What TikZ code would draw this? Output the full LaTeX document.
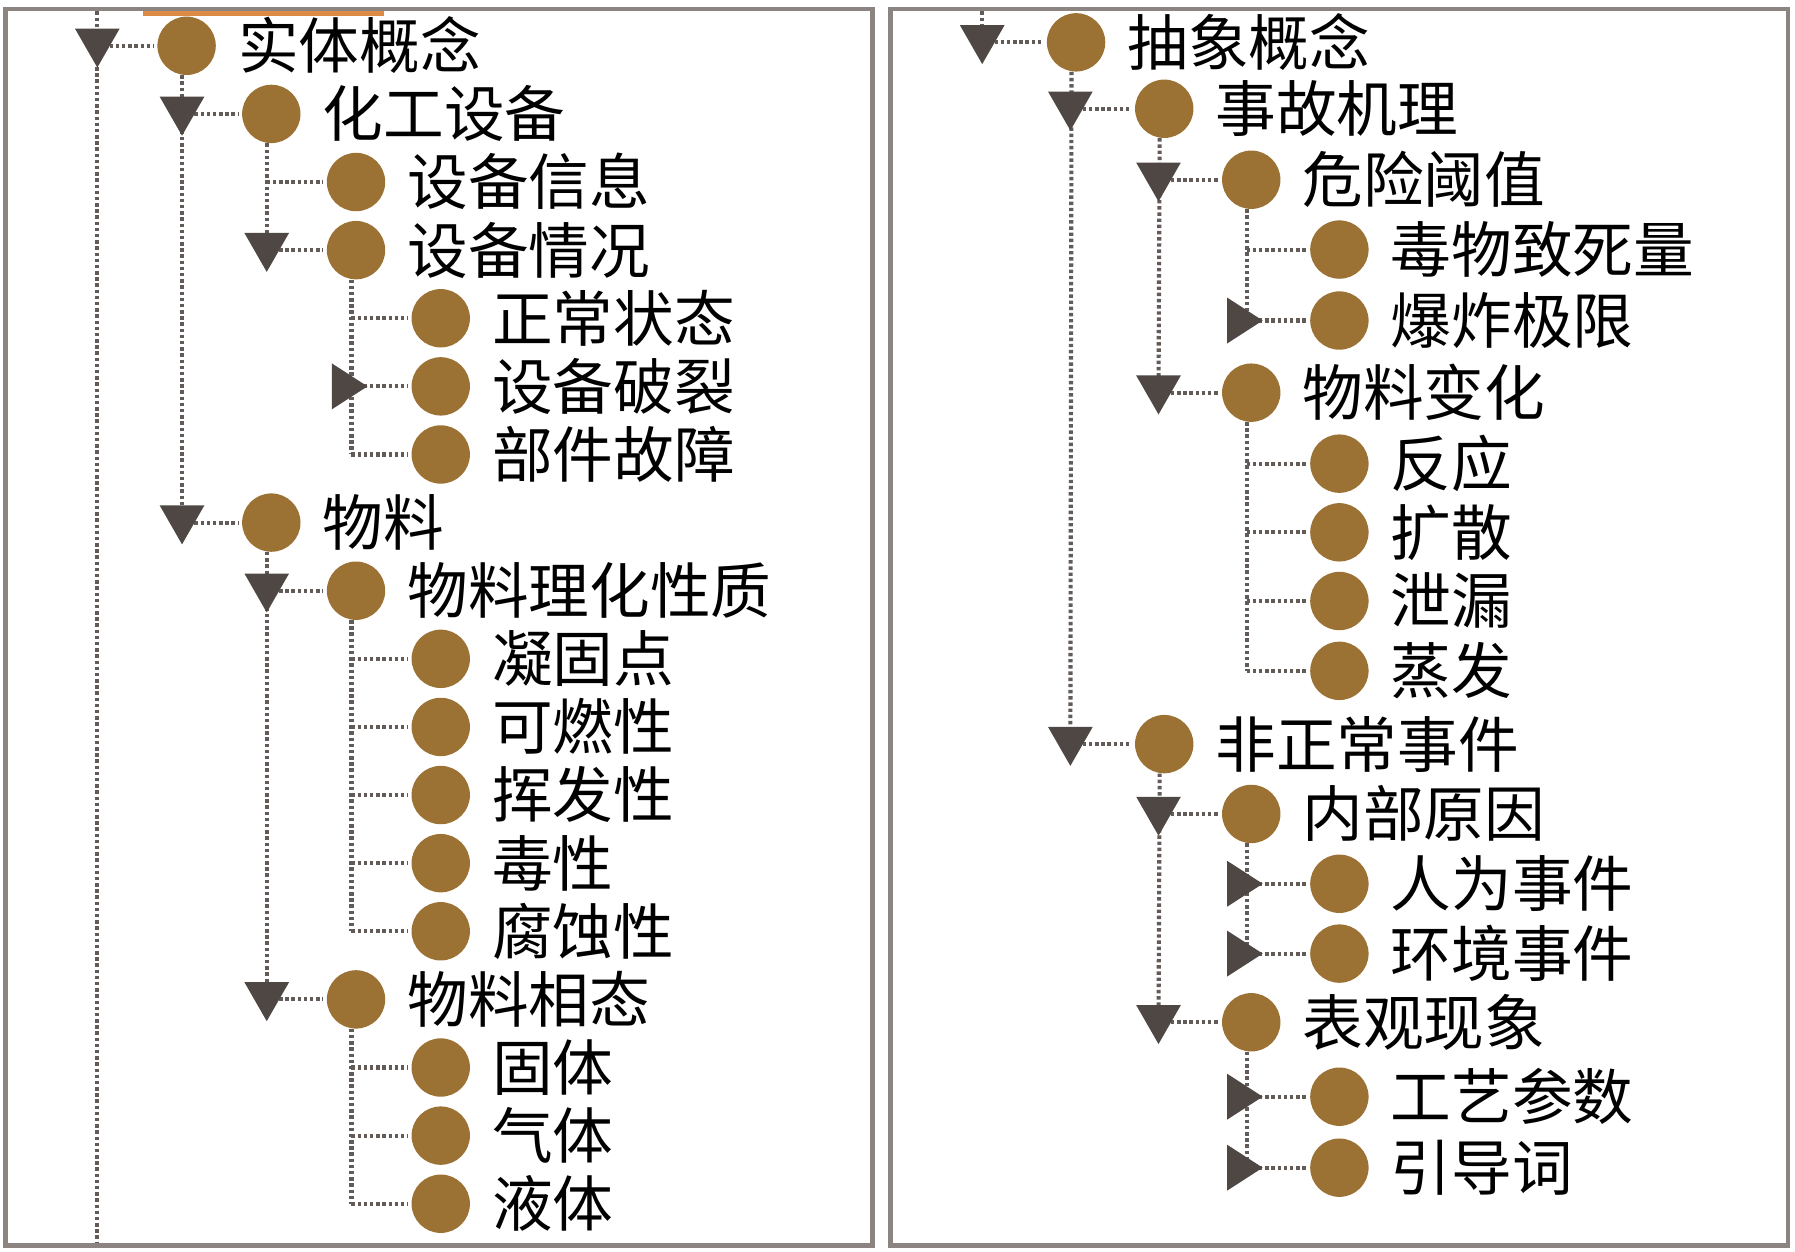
\documentclass[tikz,border=0pt]{standalone}
\usepackage{fontspec}
\newfontfamily\cjk{Noto Sans CJK SC}
\usetikzlibrary{shapes.geometric}
\definecolor{cBub}{RGB}{155,114,52}
\definecolor{cTri}{RGB}{78,71,68}
\definecolor{cDot}{RGB}{98,91,88}
\definecolor{cBorder}{RGB}{140,132,128}
\definecolor{cOrange}{RGB}{221,138,68}
\definecolor{cPeek}{RGB}{170,170,185}
\tikzset{
  bubble/.style={circle, fill=cBub, minimum size=51pt, inner sep=0pt},
  lbl/.style={anchor=west, inner sep=0pt, font=\cjk\fontsize{53}{60}\selectfont, text height=44pt, text depth=4pt},
  dotln/.style={draw=cDot, line width=3.6pt, dash pattern=on 3pt off 2.4pt},
  tri/.style={fill=cTri},
  panel/.style={draw=cBorder, line width=4pt},
}
\newcommand\bnode[4]{\node[bubble] (#1) at (#2,#3) {};\node[lbl] (#1t) at ([xshift=19pt]#1.east) {#4};}
\newcommand\tdown[1]{\fill[tri] ([shift={(-19.5pt,15pt)}]#1) -- ([shift={(19.5pt,15pt)}]#1) -- ([shift={(0pt,-19pt)}]#1) -- cycle;}
\newcommand\tright[1]{\fill[tri] ([shift={(-17pt,20pt)}]#1) -- ([shift={(14pt,0pt)}]#1) -- ([shift={(-17pt,-20pt)}]#1) -- cycle;}
\begin{document}
\begin{tikzpicture}[x=1pt,y=-1pt]
\useasboundingbox (0,0) rectangle (1568,1093);
\fill[white] (0,0) rectangle (1568,1093);
% ---------------- left panel ----------------
\begin{scope}
\clip (7,10) rectangle (760,1086);
\fill[cPeek] (163,1113) circle (26pt);
\end{scope}
\draw[cOrange, line width=4pt] (125,12) -- (335,12);
\bnode{a0}{163}{40}{实体概念}
\bnode{a1}{237}{99.5}{化工设备}
\bnode{a2}{311}{159}{设备信息}
\bnode{a3}{311}{218.5}{设备情况}
\bnode{a4}{385}{278}{正常状态}
\bnode{a5}{385}{337.5}{设备破裂}
\bnode{a6}{385}{397}{部件故障}
\bnode{a7}{237}{456.5}{物料}
\bnode{a8}{311}{516}{物料理化性质}
\bnode{a9}{385}{575.5}{凝固点}
\bnode{a10}{385}{635}{可燃性}
\bnode{a11}{385}{694.5}{挥发性}
\bnode{a12}{385}{754}{毒性}
\bnode{a13}{385}{813.5}{腐蚀性}
\bnode{a14}{311}{873}{物料相态}
\bnode{a15}{385}{932.5}{固体}
\bnode{a16}{385}{992}{气体}
\bnode{a17}{385}{1051.5}{液体}
\coordinate (k0) at (85,40);
\coordinate (k1) at (159,99.5);
\coordinate (k2) at (233,159);
\coordinate (k3) at (233,218.5);
\coordinate (k4) at (307,278);
\coordinate (k5) at (307,337.5);
\coordinate (k6) at (307,397);
\coordinate (k7) at (159,456.5);
\coordinate (k8) at (233,516);
\coordinate (k9) at (307,575.5);
\coordinate (k10) at (307,635);
\coordinate (k11) at (307,694.5);
\coordinate (k12) at (307,754);
\coordinate (k13) at (307,813.5);
\coordinate (k14) at (233,873);
\coordinate (k15) at (307,932.5);
\coordinate (k16) at (307,992);
\coordinate (k17) at (307,1051.5);
\coordinate (topL) at (85,10);
\coordinate (botL) at (85,1086);
\draw[dotln] (topL) -- (botL);
\draw[dotln] ([xshift=-4pt]a0.south) -- (k7);
\draw[dotln] ([xshift=-4pt]a1.south) -- (k3);
\draw[dotln] ([xshift=-4pt]a3.south) -- (k6);
\draw[dotln] ([xshift=-4pt]a7.south) -- (k14);
\draw[dotln] ([xshift=-4pt]a8.south) -- (k13);
\draw[dotln] ([xshift=-4pt]a14.south) -- (k17);
\foreach \i in {0,...,17} {\draw[dotln] (k\i) -- ([xshift=-3pt]a\i.west);}
\tdown{k0}\tdown{k1}\tdown{k3}\tdown{k7}\tdown{k8}\tdown{k14}
\tright{k5}
\draw[panel] (5,8) rectangle (762,1088);
% ---------------- right panel ----------------
\bnode{b0}{940}{37}{抽象概念}
\bnode{b1}{1017}{95}{事故机理}
\bnode{b2}{1093}{157}{危险阈值}
\bnode{b3}{1170}{218}{毒物致死量}
\bnode{b4}{1170}{280}{爆炸极限}
\bnode{b5}{1093}{343}{物料变化}
\bnode{b6}{1170}{405}{反应}
\bnode{b7}{1170}{465}{扩散}
\bnode{b8}{1170}{525}{泄漏}
\bnode{b9}{1170}{586}{蒸发}
\bnode{b10}{1017}{650}{非正常事件}
\bnode{b11}{1093}{711}{内部原因}
\bnode{b12}{1170}{772}{人为事件}
\bnode{b13}{1170}{833}{环境事件}
\bnode{b14}{1093}{893}{表观现象}
\bnode{b15}{1170}{958}{工艺参数}
\bnode{b16}{1170}{1020}{引导词}
\coordinate (m0) at (858,37);
\coordinate (m1) at (935,95);
\coordinate (m2) at (1012,157);
\coordinate (m3) at (1089,218);
\coordinate (m4) at (1089,280);
\coordinate (m5) at (1012,343);
\coordinate (m6) at (1089,405);
\coordinate (m7) at (1089,465);
\coordinate (m8) at (1089,525);
\coordinate (m9) at (1089,586);
\coordinate (m10) at (935,650);
\coordinate (m11) at (1012,711);
\coordinate (m12) at (1089,772);
\coordinate (m13) at (1089,833);
\coordinate (m14) at (1012,893);
\coordinate (m15) at (1089,958);
\coordinate (m16) at (1089,1020);
\coordinate (topR) at (858,10);
\draw[dotln] (topR) -- (m0);
\draw[dotln] ([xshift=-4pt]b0.south) -- (m10);
\draw[dotln] ([xshift=-4pt]b1.south) -- (m5);
\draw[dotln] ([xshift=-4pt]b2.south) -- (m4);
\draw[dotln] ([xshift=-4pt]b5.south) -- (m9);
\draw[dotln] ([xshift=-4pt]b10.south) -- (m14);
\draw[dotln] ([xshift=-4pt]b11.south) -- (m13);
\draw[dotln] ([xshift=-4pt]b14.south) -- (m16);
\foreach \i in {0,...,16} {\draw[dotln] (m\i) -- ([xshift=-3pt]b\i.west);}
\tdown{m0}\tdown{m1}\tdown{m2}\tdown{m5}\tdown{m10}\tdown{m11}\tdown{m14}
\tright{m4}\tright{m12}\tright{m13}\tright{m15}\tright{m16}
\draw[panel] (778,8) rectangle (1562,1088);
\end{tikzpicture}
\end{document}
